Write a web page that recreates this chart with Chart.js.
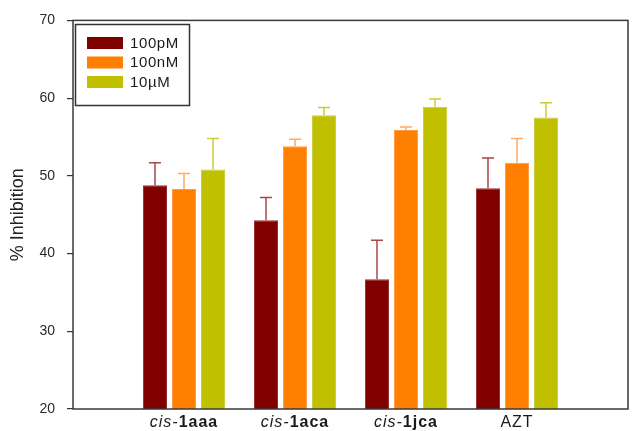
<!DOCTYPE html>
<html>
<head>
<meta charset="utf-8">
<script src="https://cdn.jsdelivr.net/npm/chart.js@4.4.0/dist/chart.umd.min.js"></script>
<style>
  html, body { margin: 0; padding: 0; background: #fff; }
  #wrap { width: 635px; height: 431px; }
</style>
</head>
<body>
<div id="wrap"><canvas id="myChart"></canvas></div>
<script>
// empty slots at both ends leave room around the groups
const labels = ['', 'cis-1aaa', 'cis-1aca', 'cis-1jca', 'AZT', '']
const labelItalic = ['', 'cis-', 'cis-', 'cis-', '', '']
const labelBold = ['', '1aaa', '1aca', '1jca', '', '']
const labelPlain = ['', '', '', '', 'AZT', '']

const seriesNames = ['100pM', '100nM', '10\u00b5M']
const pM100 = [null, 48.8, 44.3, 36.7, 48.4, null]
const pM100Err = [null, 2.9, 2.9, 5.0, 3.9, null]
const nM100 = [null, 48.3, 53.8, 55.9, 51.7, null]
const nM100Err = [null, 2.0, 0.9, 0.4, 3.1, null]
const uM10 = [null, 50.8, 57.8, 58.9, 57.5, null]
const uM10Err = [null, 4.0, 1.0, 1.0, 1.9, null]

const yTicks = [20, 30, 40, 50, 60, 70]

const barColors = ['#800000', '#ff8000', '#c0c000']
const edgeColors = ['#983030', '#ff9a40', '#cccc40']
const errColors = ['#a84848', '#ffac60', '#cccc38']

const errorBars = {
  id: 'errorBars',
  afterDatasetsDraw(chart) {
    const ctx = chart.ctx
    const y = chart.scales.y
    chart.data.datasets.forEach((ds, i) => {
      const meta = chart.getDatasetMeta(i)
      meta.data.forEach((bar, j) => {
        const v = ds.data[j]
        const e = ds.errors[j]
        if (v == null || e == null) return
        const top = y.getPixelForValue(v + e)
        ctx.save()
        ctx.strokeStyle = ds.errorColor
        ctx.lineWidth = 1.5
        ctx.beginPath()
        ctx.moveTo(bar.x, bar.y)
        ctx.lineTo(bar.x, top)
        ctx.moveTo(bar.x - 6, top)
        ctx.lineTo(bar.x + 6, top)
        ctx.stroke()
        ctx.restore()
      })
    })
  }
}

const frameAndText = {
  id: 'frameAndText',
  afterDraw(chart) {
    const ctx = chart.ctx
    const a = chart.chartArea
    const x = chart.scales.x
    ctx.save()
    // plot frame
    ctx.strokeStyle = '#3a3a3a'
    ctx.lineWidth = 1.5
    ctx.strokeRect(a.left, a.top, a.right - a.left, a.bottom - a.top)

    // category labels, italic prefix + bold name
    ctx.fillStyle = '#1a1a1a'
    ctx.textBaseline = 'alphabetic'
    ctx.letterSpacing = '1px'
    labels.forEach((l, i) => {
      if (!l) return
      const cx = x.getPixelForValue(i)
      const fi = 'italic 16px "Liberation Sans", Arial, sans-serif'
      const fb = 'bold 16px "Liberation Sans", Arial, sans-serif'
      const fp = '16px "Liberation Sans", Arial, sans-serif'
      ctx.font = fi
      const wi = ctx.measureText(labelItalic[i]).width
      ctx.font = fb
      const wb = ctx.measureText(labelBold[i]).width
      ctx.font = fp
      const wp = ctx.measureText(labelPlain[i]).width
      let sx = cx - (wi + wb + wp) / 2
      ctx.textAlign = 'left'
      ctx.font = fi
      ctx.fillText(labelItalic[i], sx, 427)
      sx += wi
      ctx.font = fb
      ctx.fillText(labelBold[i], sx, 427)
      sx += wb
      ctx.font = fp
      ctx.fillText(labelPlain[i], sx, 427)
    })

    // legend box
    ctx.strokeStyle = '#333'
    ctx.lineWidth = 1.5
    ctx.strokeRect(75.5, 24.5, 114, 81)
    ctx.letterSpacing = '0.6px'
    ctx.font = '15px "Liberation Sans", Arial, sans-serif'
    ctx.textBaseline = 'middle'
    chart.data.datasets.forEach((ds, i) => {
      const ry = 37 + i * 19.5
      ctx.fillStyle = ds.backgroundColor
      ctx.fillRect(87, ry, 36, 12)
      ctx.fillStyle = '#1a1a1a'
      ctx.fillText(ds.label, 130, ry + 6.5)
    })
    ctx.restore()
  }
}

const ctx = document.getElementById('myChart').getContext('2d')

const datasets = [pM100, nM100, uM10].map((data, i) => ({
  label: seriesNames[i],
  data,
  errors: [pM100Err, nM100Err, uM10Err][i],
  backgroundColor: barColors[i],
  borderColor: edgeColors[i],
  borderWidth: 1,
  errorColor: errColors[i],
  categoryPercentage: 0.784,
  barPercentage: 0.83
}))

const config = {
  type: 'bar',
  data: { labels, datasets },
  options: {
    responsive: true,
    maintainAspectRatio: false,
    animation: false,
    layout: { padding: { top: 19, right: 7, left: 0, bottom: 0 } },
    plugins: {
      legend: { display: false },
      tooltip: { enabled: false }
    },
    scales: {
      x: {
        offset: false,
        grid: { display: false, offset: false },
        border: { display: false },
        ticks: { display: false },
        afterFit: (s) => { s.height = 22 }
      },
      y: {
        min: 20,
        max: 70,
        afterBuildTicks: (s) => { s.ticks = yTicks.map(v => ({ value: v })) },
        ticks: {
          color: '#2a2a2a',
          padding: 12,
          font: { size: 14, family: '"Liberation Sans", Arial, sans-serif' }
        },
        grid: { drawOnChartArea: false, tickLength: 6, color: '#333', lineWidth: 1.2 },
        border: { display: false },
        title: {
          display: true,
          text: '% Inhibition',
          color: '#222',
          padding: { top: 7, bottom: 0 },
          font: { size: 18, family: '"Liberation Sans", Arial, sans-serif' }
        },
        afterFit: (s) => { s.width = 73 }
      }
    }
  },
  plugins: [errorBars, frameAndText]
}

const myChart = new Chart(ctx, config)
</script>
</body>
</html>
